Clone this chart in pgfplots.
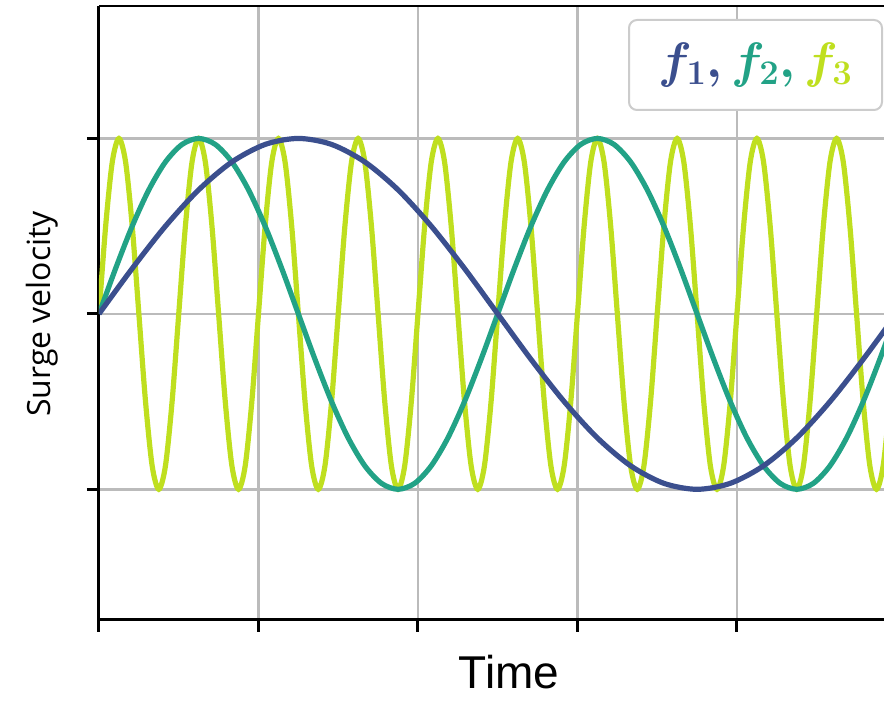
\documentclass[border=0pt]{standalone}
\usepackage{fontspec}
\setmainfont{Liberation Sans}
\newfontfamily\opensans{Open Sans}
\usepackage{bm}
\usepackage{pgfplots}
\pgfplotsset{compat=1.18}
\definecolor{cblue}{HTML}{3B4F8E}
\definecolor{cteal}{HTML}{22A286}
\definecolor{cyell}{HTML}{BFDF1F}
\definecolor{cgrid}{HTML}{BBBBBB}
\begin{document}
\begin{tikzpicture}
\begin{axis}[
  scale only axis, width=392.5pt, height=307pt,
  xmin=0, xmax=4.922, ymin=-1.745, ymax=1.755,
  xtick={0,1,2,3,4}, ytick={-1,0,1},
  xticklabels={}, yticklabels={},
  axis x line*=bottom, axis y line*=left,
  axis line style={line width=1.5pt, -},
  tick align=outside, major tick length=6pt,
  tick style={black, line width=1.5pt},
  grid=major, grid style={color=cgrid, line width=1.2pt},
  clip=true,
]
% f3
\addplot[cyell, line width=2.6pt, smooth] coordinates {
(0,0) (0.0417,0.5) (0.0833,0.866) (0.125,1) (0.1667,0.866) (0.2083,0.5) (0.25,0) (0.2917,-0.5) (0.3333,-0.866) (0.375,-1) (0.4167,-0.866) (0.4583,-0.5)
(0.5,0) (0.5417,0.5) (0.5833,0.866) (0.625,1) (0.6667,0.866) (0.7083,0.5) (0.75,0) (0.7917,-0.5) (0.8333,-0.866) (0.875,-1) (0.9167,-0.866) (0.9583,-0.5)
(1,0) (1.0417,0.5) (1.0833,0.866) (1.125,1) (1.1667,0.866) (1.2083,0.5) (1.25,0) (1.2917,-0.5) (1.3333,-0.866) (1.375,-1) (1.4167,-0.866) (1.4583,-0.5)
(1.5,0) (1.5417,0.5) (1.5833,0.866) (1.625,1) (1.6667,0.866) (1.7083,0.5) (1.75,0) (1.7917,-0.5) (1.8333,-0.866) (1.875,-1) (1.9167,-0.866) (1.9583,-0.5)
(2,0) (2.0417,0.5) (2.0833,0.866) (2.125,1) (2.1667,0.866) (2.2083,0.5) (2.25,0) (2.2917,-0.5) (2.3333,-0.866) (2.375,-1) (2.4167,-0.866) (2.4583,-0.5)
(2.5,0) (2.5417,0.5) (2.5833,0.866) (2.625,1) (2.6667,0.866) (2.7083,0.5) (2.75,0) (2.7917,-0.5) (2.8333,-0.866) (2.875,-1) (2.9167,-0.866) (2.9583,-0.5)
(3,0) (3.0417,0.5) (3.0833,0.866) (3.125,1) (3.1667,0.866) (3.2083,0.5) (3.25,0) (3.2917,-0.5) (3.3333,-0.866) (3.375,-1) (3.4167,-0.866) (3.4583,-0.5)
(3.5,0) (3.5417,0.5) (3.5833,0.866) (3.625,1) (3.6667,0.866) (3.7083,0.5) (3.75,0) (3.7917,-0.5) (3.8333,-0.866) (3.875,-1) (3.9167,-0.866) (3.9583,-0.5)
(4,0) (4.0417,0.5) (4.0833,0.866) (4.125,1) (4.1667,0.866) (4.2083,0.5) (4.25,0) (4.2917,-0.5) (4.3333,-0.866) (4.375,-1) (4.4167,-0.866) (4.4583,-0.5)
(4.5,0) (4.5417,0.5) (4.5833,0.866) (4.625,1) (4.6667,0.866) (4.7083,0.5) (4.75,0) (4.7917,-0.5) (4.8333,-0.866) (4.875,-1) (4.9167,-0.866) (4.9583,-0.5)
(5,0)
};
% f2
\addplot[cteal, line width=2.6pt, smooth] coordinates {
(0,0) (0.1042,0.2588) (0.2083,0.5) (0.3125,0.7071) (0.4167,0.866) (0.5208,0.9659) (0.625,1) (0.7292,0.9659) (0.8333,0.866) (0.9375,0.7071) (1.0417,0.5) (1.1458,0.2588)
(1.25,0) (1.3542,-0.2588) (1.4583,-0.5) (1.5625,-0.7071) (1.6667,-0.866) (1.7708,-0.9659) (1.875,-1) (1.9792,-0.9659) (2.0833,-0.866) (2.1875,-0.7071) (2.2917,-0.5) (2.3958,-0.2588)
(2.5,0) (2.6042,0.2588) (2.7083,0.5) (2.8125,0.7071) (2.9167,0.866) (3.0208,0.9659) (3.125,1) (3.2292,0.9659) (3.3333,0.866) (3.4375,0.7071) (3.5417,0.5) (3.6458,0.2588)
(3.75,0) (3.8542,-0.2588) (3.9583,-0.5) (4.0625,-0.7071) (4.1667,-0.866) (4.2708,-0.9659) (4.375,-1) (4.4792,-0.9659) (4.5833,-0.866) (4.6875,-0.7071) (4.7917,-0.5) (4.8958,-0.2588)
(5,0)
};
% f1
\addplot[cblue, line width=2.6pt, smooth] coordinates {
(0,0) (0.2083,0.2588) (0.4167,0.5) (0.625,0.7071) (0.8333,0.866) (1.0417,0.9659) (1.25,1) (1.4583,0.9659) (1.6667,0.866) (1.875,0.7071) (2.0833,0.5) (2.2917,0.2588)
(2.5,0) (2.7083,-0.2588) (2.9167,-0.5) (3.125,-0.7071) (3.3333,-0.866) (3.5417,-0.9659) (3.75,-1) (3.9583,-0.9659) (4.1667,-0.866) (4.375,-0.7071) (4.5833,-0.5) (4.7917,-0.2588)
(5,0)
};
\draw[black, line width=1.5pt] (rel axis cs:0,1) -- (rel axis cs:1,1);
\end{axis}
% legend box
\node[draw=black!20, line width=1pt, fill=white, rounded corners=4pt,
      minimum width=126.5pt, minimum height=45pt, inner sep=0pt,
      font=\fontsize{24}{28}\selectfont]
  at (328.25pt,277.5pt)
  {$\color{cblue}\bm{f}_{\bm{1}}\bm{,}\color{cteal}\bm{f}_{\bm{2}}\bm{,}\color{cyell}\bm{f}_{\bm{3}}$};
\node[anchor=base, inner sep=0pt, text depth=0pt, font=\fontsize{23}{26}\selectfont] at (205pt,-34.5pt) {Time};
\node[rotate=90, font=\opensans\fontsize{16}{18}\selectfont] at (-28.5pt,153pt) {Surge velocity};
\pgfresetboundingbox
\useasboundingbox (-49.5pt,-40.5pt) rectangle (392.5pt,310pt);
\end{tikzpicture}
\end{document}
